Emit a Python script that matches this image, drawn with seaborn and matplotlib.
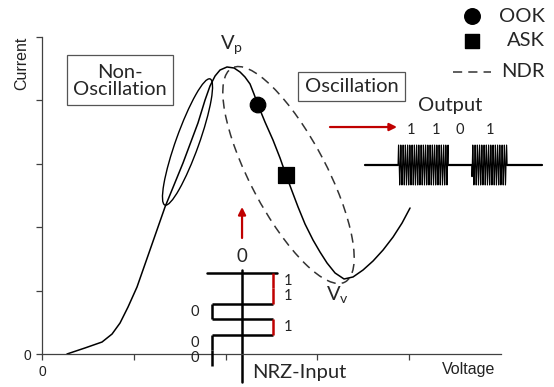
import numpy as np
import matplotlib
matplotlib.use("Agg")
import matplotlib.pyplot as plt
import matplotlib.transforms as mtransforms
from matplotlib.patches import Ellipse, Rectangle
import seaborn as sns

# I-V characteristic of the NDR device (arbitrary units)
voltage = [0.272, 0.468, 0.654, 0.763, 0.850, 0.937, 1.035, 1.176, 1.340,
           1.536, 1.699, 1.776, 1.830, 1.885, 1.939, 2.015, 2.092, 2.157,
           2.211, 2.266, 2.309, 2.353, 2.429, 2.516, 2.593, 2.658, 2.723,
           2.789, 2.865, 2.952, 3.028, 3.105, 3.192, 3.290, 3.388, 3.497,
           3.606, 3.715, 3.824, 3.922, 4.009]
current = [0.000, 0.095, 0.189, 0.315, 0.489, 0.741, 1.057, 1.640, 2.319,
           3.013, 3.644, 4.006, 4.227, 4.385, 4.479, 4.527, 4.511, 4.448,
           4.369, 4.259, 4.101, 3.927, 3.659, 3.375, 3.091, 2.823, 2.571,
           2.319, 2.050, 1.798, 1.609, 1.435, 1.278, 1.183, 1.215, 1.325,
           1.467, 1.640, 1.845, 2.066, 2.303]

# bias points for the two modulation schemes
mod_names = ["OOK", "ASK"]
mod_voltage = [2.353, 2.658]
mod_current = [3.927, 2.823]

# NRZ input bit stream (time runs downward) and OOK output bits
nrz_bits = [1, 1, 0, 1, 0, 0]
out_bits = [1, 1, 0, 1]
out_edges = [3.878, 4.150, 4.423, 4.684, 5.065]

RED = "#C00000"
BLACK = "#000000"
FS = 14.5

sns.set_theme(style="ticks")
plt.rcParams["font.family"] = ["Lato", "DejaVu Sans"]
plt.rcParams["mathtext.fontset"] = "custom"
plt.rcParams["mathtext.rm"] = "Lato"

fig = plt.figure(figsize=(5.54, 3.87), dpi=100)
ax = fig.add_axes([0, 0, 1, 1])
ax.set_xlim(-0.4575, 5.577)
ax.set_ylim(-0.5205, 5.5836)
ax.patch.set_alpha(0)

# axes drawn as plain spines through the origin
for side in ("top", "right"):
    ax.spines[side].set_visible(False)
ax.spines["left"].set_position(("data", 0))
ax.spines["bottom"].set_position(("data", 0))
ax.spines["left"].set_bounds(0, 5)
ax.spines["bottom"].set_bounds(0, 5)
for side in ("left", "bottom"):
    ax.spines[side].set_color("#404040")
    ax.spines[side].set_linewidth(0.9)
ax.set_xticks(range(5))
ax.set_xticklabels(["0", "", "", "", ""])
ax.set_yticks(range(6))
ax.set_yticklabels(["0", "", "", "", "", ""])
ax.tick_params(direction="out", length=4.3, width=0.9, color="#404040",
               labelsize=10, pad=3.5, labelcolor="#222222")
for lab in ax.get_xticklabels() + ax.get_yticklabels():
    lab.set_family(["Liberation Sans"])
ax.set_xlabel("")
ax.set_ylabel("")
ax.text(4.651, -0.237, "Voltage", ha="center", va="center", fontsize=11.5,
        family=["Liberation Sans"], color="#222222")
ax.text(-0.218, 4.590, "Current", ha="center", va="center", rotation=90,
        fontsize=11.5, family=["Liberation Sans"], color="#222222")

# I-V curve and operating points
sns.lineplot(x=voltage, y=current, sort=False, color=BLACK, lw=1.1, ax=ax,
             estimator=None)
sns.scatterplot(x=mod_voltage, y=mod_current, style=mod_names,
                markers={"OOK": "o", "ASK": "s"}, s=125, color=BLACK,
                edgecolor=BLACK, legend=False, ax=ax, zorder=5)


def screen_ellipse(center, width_px, height_px, angle, **kw):
    tr = fig.dpi_scale_trans + mtransforms.ScaledTranslation(
        center[0], center[1], ax.transData)
    ax.add_patch(Ellipse((0, 0), width_px / fig.dpi, height_px / fig.dpi,
                         angle=angle, transform=tr, fill=False, **kw))


screen_ellipse((1.585, 3.344), 134, 23, 70.3, ec=BLACK, lw=1.0)
screen_ellipse((2.685, 2.823), 242, 76, 117.8, ec="#333333", lw=1.1,
               ls=(0, (6, 4)))

# region boxes
ax.add_patch(Rectangle((0.272, 3.927), 1.155, 0.789, fill=False,
                       ec="#555555", lw=0.9))
ax.text(0.850, 4.310, "Non-\nOscillation", ha="center", va="center",
        fontsize=FS, linespacing=1.0)
ax.add_patch(Rectangle((2.789, 3.991), 1.165, 0.457, fill=False,
                       ec="#555555", lw=0.9))
ax.text(3.371, 4.225, "Oscillation", ha="center", va="center", fontsize=FS)

# peak / valley labels
ax.text(2.065, 4.86, r"V$_\mathregular{p}$", ha="center", va="center",
        fontsize=FS)
ax.text(3.215, 0.93, r"V$_\mathregular{v}$", ha="center", va="center",
        fontsize=FS)

# legend
ax.scatter([4.684], [5.331], marker="o", s=125, color=BLACK)
ax.scatter([4.684], [4.937], marker="s", s=110, color=BLACK)
ax.plot([4.477, 4.891], [4.448, 4.448], color="#333333", lw=1.1,
        ls=(0, (6, 4)))
for label, yv in zip(["OOK", "ASK", "NDR"], [5.331, 4.937, 4.448]):
    ax.text(5.479, yv, label, ha="right", va="center", fontsize=FS)

# red arrows
arrow_kw = dict(arrowstyle="-|>", color=RED, lw=1.6, mutation_scale=11,
                shrinkA=0, shrinkB=0)
ax.annotate("", xy=(3.867, 3.580), xytext=(3.137, 3.580), arrowprops=arrow_kw)
ax.annotate("", xy=(2.179, 2.319), xytext=(2.179, 1.830), arrowprops=arrow_kw)

# NRZ input waveform
x_mid, x_hi, x_lo = 2.179, 2.516, 1.852
y_top, bit_h = 1.278, 0.2445
ax.plot([x_mid, x_mid], [1.325, -0.442], color=BLACK, lw=1.8)
ax.plot([1.797, 2.560], [y_top, y_top], color=BLACK, lw=1.8)
ax.text(x_mid, 1.53, "0", ha="center", va="center", fontsize=13.5)
prev = None
for i, b in enumerate(nrz_bits):
    lvl = x_hi if b else x_lo
    y_a, y_b = y_top - i * bit_h, y_top - (i + 1) * bit_h
    if prev is not None and prev != lvl:
        ax.plot([prev, lvl], [y_a, y_a], color=BLACK, lw=1.8,
                solid_capstyle="butt")
    ax.plot([lvl, lvl], [y_a, y_b], color=RED if b else BLACK, lw=1.8,
            solid_capstyle="butt", zorder=4)
    yc = (y_a + y_b) / 2
    if b:
        ax.text(2.68, yc, "1", ha="center", va="center", fontsize=10.5,
                color="#222222")
    else:
        ax.text(1.667, yc, "0", ha="center", va="center", fontsize=10.5,
                color="#222222")
    prev = lvl
ax.text(2.29, -0.284, "NRZ-Input", ha="left", va="center", fontsize=FS)

# OOK output waveform: carrier gated by the output bits
base_y, amp = 2.981, 0.315
carrier_period = 0.0245
t = np.linspace(3.519, 5.447, 16000)
gate = np.zeros_like(t)
for b, x0, x1 in zip(out_bits, out_edges[:-1], out_edges[1:]):
    if b:
        gate[(t >= x0) & (t <= x1)] = 1.0
wave = base_y + amp * gate * np.sin(2 * np.pi * (t - 3.878) / carrier_period)
ax.plot(t, wave, color=BLACK, lw=0.8)
ax.plot([3.519, 3.878], [base_y, base_y], color=BLACK, lw=1.6)
ax.plot([4.423, 4.684], [base_y, base_y], color=BLACK, lw=1.6)
ax.plot([5.065, 5.447], [base_y, base_y], color=BLACK, lw=1.6)
for b, x0, x1 in zip(out_bits, out_edges[:-1], out_edges[1:]):
    ax.text((x0 + x1) / 2, 3.533, str(b), ha="center", va="center",
            fontsize=10.5, color="#222222")
ax.text(4.444, 3.927, "Output", ha="center", va="center", fontsize=FS)

fig.savefig("out.png", dpi=100)
